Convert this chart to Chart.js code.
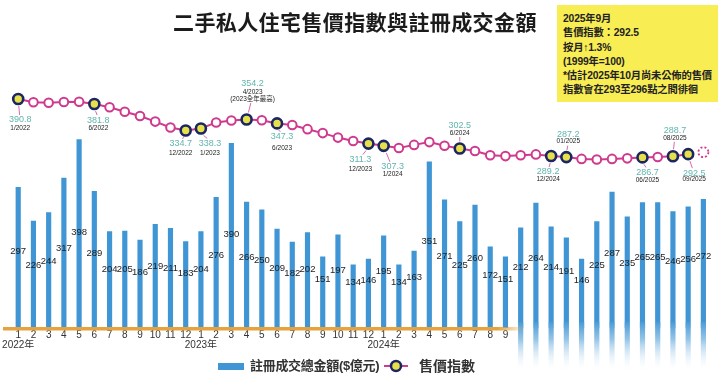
<!DOCTYPE html>
<html><head><meta charset="utf-8">
<script src="https://cdn.jsdelivr.net/npm/chart.js@4/dist/chart.umd.min.js"></script>
<style>
html,body{margin:0;padding:0;background:#fff;}
#wrap{position:relative;width:720px;height:376px;overflow:hidden;font-family:"Noto Sans CJK TC","Noto Sans",sans-serif;}
#c{position:absolute;left:0;top:0;}
#title{position:absolute;left:173px;top:6px;font-size:21px;font-weight:700;color:#1b1b1b;letter-spacing:0.4px;line-height:30px;white-space:nowrap;}
#note{position:absolute;left:557px;top:5px;width:155px;height:90px;background:#f8ed52;padding:7px 0 0 6px;font-family:"Liberation Sans","Noto Sans CJK TC",sans-serif;font-size:10.3px;letter-spacing:-0.15px;font-weight:700;color:#222;line-height:14.3px;white-space:nowrap;}
#legend{position:absolute;top:357px;left:0;width:720px;height:18px;font-family:"Liberation Sans","Noto Sans CJK TC",sans-serif;font-weight:700;color:#333;}
.lg{position:absolute;top:0;line-height:18px;white-space:nowrap;}
</style></head>
<body>
<div id="wrap">
  <canvas id="c" width="720" height="376"></canvas>
  <div id="title">二手私人住宅售價指數與註冊成交金額</div>
  <div id="note">2025年9月<br>售價指數：292.5<br>按月↑1.3%<br>(1999年=100)<br>*估計2025年10月尚未公佈的售價<br>指數會在293至296點之間徘徊</div>
  <div id="legend">
    <div style="position:absolute;left:218px;top:6px;width:26px;height:7px;background:#4096d4"></div>
    <div class="lg" style="left:250px;font-size:13px;letter-spacing:-0.3px">註冊成交總金額($億元)</div>
    <svg style="position:absolute;left:384px;top:0" width="24" height="18"><line x1="0" y1="9" x2="24" y2="9" stroke="#cf3a8e" stroke-width="2"/><circle cx="12" cy="9" r="5" fill="#e6e14a" stroke="#1c2663" stroke-width="2.5"/></svg>
    <div class="lg" style="left:419px;font-size:14px">售價指數</div>
  </div>
</div>
<script>
// ---- data ----
const months = [1,2,3,4,5,6,7,8,9,10,11,12, 1,2,3,4,5,6,7,8,9,10,11,12, 1,2,3,4,5,6,7,8,9,10,11,12, 1,2,3,4,5,6,7,8,9,10];
const years  = [2022,2022,2022,2022,2022,2022,2022,2022,2022,2022,2022,2022,
                2023,2023,2023,2023,2023,2023,2023,2023,2023,2023,2023,2023,
                2024,2024,2024,2024,2024,2024,2024,2024,2024,2024,2024,2024,
                2025,2025,2025,2025,2025,2025,2025,2025,2025,2025];
const lastLabelledIndex = 32; // month tick labels shown up to 9/2024
const turnover = [297,226,244,317,398,289,204,205,186,219,211,183,
                  204,276,390,266,250,209,182,202,151,197,134,146,
                  195,134,163,351,271,225,260,172,151,212,264,214,
                  191,146,225,287,235,265,265,246,256,272];
const priceIndex = [390.8,385.0,384.0,385.5,386.0,381.8,376.0,368.0,360.5,350.5,340.0,334.7,
                    338.3,349.0,352.5,354.2,353.0,347.3,344.5,337.0,330.0,322.0,316.0,311.3,
                    307.3,303.5,309.0,314.0,307.5,302.5,298.0,290.5,289.0,290.5,292.0,289.2,
                    287.2,284.0,283.0,284.0,285.0,286.7,287.5,288.7,292.5];
const estimateOct2025 = 296;
const highlightIdx = [0,5,11,12,15,17,23,24,29,35,36,41,43,44];
const highlightDates = ['1/2022','6/2022','12/2022','1/2023','4/2023','6/2023','12/2023','1/2024','6/2024','12/2024','01/2025','06/2025','08/2025','09/2025'];
const highlightNotes = {15:'(2023全年最高)'};

// ---- styles / placement ----
const BAR = '#4096d4', LINE = '#cf3a8e', NAVY = '#1c2663', YEL = '#e6e14a', TEAL = '#62b5b0';
const place = { // value text offset from point, then date offset below value
  0:[2,21,8], 5:[4,16,8], 11:[-5,13,9.5], 12:[9,15,9.5], 15:[6,-36,8.5], 17:[5,13,12],
  23:[-8,16,10], 24:[9,21,7], 29:[0,-23,7.5], 35:[-3,16,7], 36:[2,-23,7.5],
  41:[5,15,7.5], 43:[2,-26,7.5], 44:[6,19,6.5]
};

const labels = months.map((m,i)=> (i===0 || m===1) ? [String(m), years[i]+'年'] : [String(m)]);

const deco = {
  id:'deco',
  afterDatasetsDraw(chart){
    const {ctx, chartArea:ca, scales:{x,y,y2}} = chart;
    const base = ca.bottom;
    ctx.save();
    // faded bar continuation at bottom-right
    const bm = chart.getDatasetMeta(1);
    bm.data.forEach((el,i)=>{
      if(i<=lastLabelledIndex) return;
      const w = el.width;
      const g = ctx.createLinearGradient(0,base-6,0,base+44);
      g.addColorStop(0,'rgba(64,150,212,0.95)');
      g.addColorStop(0.35,'rgba(64,150,212,0.55)');
      g.addColorStop(1,'rgba(255,255,255,0)');
      ctx.fillStyle='#fff';
      ctx.fillRect(el.x-w/2, base-6, w, 6);
      ctx.fillStyle=g;
      ctx.fillRect(el.x-w/2, base-6, w, 50);
    });
    // orange baseline
    const xEnd = x.getPixelForValue(lastLabelledIndex)+12;
    const og = ctx.createLinearGradient(xEnd-20,0,xEnd+8,0);
    og.addColorStop(0,'rgba(230,162,60,1)');
    og.addColorStop(1,'rgba(230,162,60,0)');
    ctx.fillStyle=og;
    ctx.fillRect(3, base-1, xEnd+8-3, 3.5);
    // bar value labels
    ctx.fillStyle='#1e1e1e';
    ctx.font='9.5px "Liberation Sans", Arial, sans-serif';
    ctx.textAlign='center'; ctx.textBaseline='middle';
    turnover.forEach((v,i)=>{
      const px = x.getPixelForValue(i);
      const py = y.getPixelForValue(42 + 0.4*v);
      ctx.fillText(String(v), px, py);
    });
    ctx.restore();
  },
  afterDraw(chart){
    const {ctx, scales:{x,y2}} = chart;
    ctx.save();
    // estimate dashed circle
    const ex = x.getPixelForValue(priceIndex.length), ey = y2.getPixelForValue(estimateOct2025);
    ctx.setLineDash([2,2]); ctx.strokeStyle=LINE; ctx.lineWidth=1.8;
    ctx.beginPath(); ctx.arc(ex,ey,5,0,Math.PI*2); ctx.stroke();
    ctx.setLineDash([]);
    // annotations
    ctx.textAlign='center'; ctx.textBaseline='middle';
    highlightIdx.forEach((i,k)=>{
      const px = x.getPixelForValue(i), py = y2.getPixelForValue(priceIndex[i]);
      const [dx,dy,dd] = place[i];
      const tx = px+dx, ty = py+dy;
      // leader
      ctx.strokeStyle='#d86aa8'; ctx.lineWidth=1;
      ctx.beginPath();
      if(dy>0){ ctx.moveTo(px+dx*0.3, py+7); ctx.lineTo(px+dx*0.7, ty-5); }
      else { const top = ty + dd + (highlightNotes[i]?7:0) + 4; ctx.moveTo(px+dx*0.3, py-7); ctx.lineTo(px+dx*0.7, Math.min(top, py-8)); }
      ctx.stroke();
      ctx.fillStyle=TEAL; ctx.font='9px "Liberation Sans", Arial, sans-serif';
      ctx.fillText(priceIndex[i].toFixed(1), tx, ty);
      ctx.fillStyle='#222'; ctx.font='6.5px "Liberation Sans", Arial, sans-serif';
      ctx.fillText(highlightDates[k], tx, ty+dd);
      if(highlightNotes[i]){
        ctx.font='6.5px "Liberation Sans","Noto Sans CJK TC", sans-serif';
        ctx.fillText(highlightNotes[i], tx, ty+dd+7);
      }
    });
    ctx.restore();
  }
};

const hl = new Set(highlightIdx);
new Chart(document.getElementById('c'), {
  data:{
    labels,
    datasets:[
      { type:'line', label:'售價指數', data:priceIndex, yAxisID:'y2', order:0,
        borderColor:LINE, borderWidth:2, tension:0,
        pointRadius: priceIndex.map((v,i)=>hl.has(i)?5:4.3),
        pointBorderWidth: priceIndex.map((v,i)=>hl.has(i)?2.6:2),
        pointBackgroundColor: priceIndex.map((v,i)=>hl.has(i)?YEL:'#fff'),
        pointBorderColor: priceIndex.map((v,i)=>hl.has(i)?NAVY:LINE) },
      { type:'bar', label:'註冊成交總金額($億元)', data:turnover, yAxisID:'y', order:1,
        backgroundColor:BAR, barPercentage:0.34, categoryPercentage:1 }
    ]
  },
  options:{
    responsive:false, animation:false, devicePixelRatio:1,
    layout:{padding:{left:6,right:9,top:60,bottom:28}},
    plugins:{legend:{display:false}, tooltip:{enabled:false}},
    scales:{
      x:{ grid:{display:false, drawTicks:false}, border:{display:false},
          afterFit(a){ a.height = 20; },
          ticks:{ autoSkip:false, maxRotation:0, padding:2, color:'#333',
                  font:{size:10, family:'"Liberation Sans", Arial, "Noto Sans CJK TC", sans-serif', lineHeight:1.0},
                  callback:(v,i)=> i<=lastLabelledIndex ? labels[i] : '' } },
      y:{ display:false, min:0, max:565 },
      y2:{ display:false, min:-17.4, max:460.3 }
    }
  },
  plugins:[deco]
});
</script>
</body></html>
